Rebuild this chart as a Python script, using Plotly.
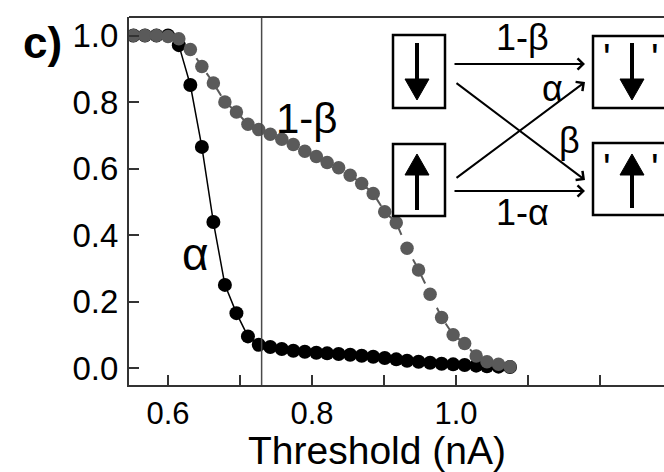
import plotly.graph_objects as go

# ---- data ----
threshold = [0.552, 0.568, 0.584, 0.600, 0.615, 0.631, 0.647, 0.663, 0.679, 0.695,
             0.711, 0.726, 0.742, 0.758, 0.774, 0.790, 0.806, 0.821, 0.837, 0.853,
             0.869, 0.885, 0.901, 0.917, 0.932, 0.948, 0.964, 0.980, 0.996, 1.012,
             1.028, 1.043, 1.059, 1.075]
alpha = [1.0, 1.0, 1.0, 1.0, 0.971, 0.851, 0.665, 0.439, 0.250, 0.165,
         0.095, 0.070, 0.063, 0.057, 0.052, 0.049, 0.046, 0.044, 0.042, 0.040,
         0.037, 0.034, 0.030, 0.026, 0.022, 0.019, 0.016, 0.013, 0.011, 0.009,
         0.007, 0.005, 0.004, 0.003]
one_minus_beta = [1.0, 1.0, 1.0, 0.997, 0.99, 0.958, 0.907, 0.857, 0.800, 0.770,
                  0.733, 0.717, 0.703, 0.688, 0.672, 0.652, 0.636, 0.618, 0.602, 0.580,
                  0.555, 0.525, 0.470, 0.437, 0.360, 0.295, 0.222, 0.152, 0.100, 0.074,
                  0.036, 0.019, 0.011, 0.004]
threshold_marker = 0.73
x_tickvals = [0.6, 0.7, 0.8, 0.9, 1.0, 1.1, 1.2]
x_ticktext = ["0.6", "", "0.8", "", "1.0", "", ""]
y_tickvals = [0.0, 0.2, 0.4, 0.6, 0.8, 1.0]
y_ticktext = ["0.0", "0.2", "0.4", "0.6", "0.8", "1.0"]

FONT = "Liberation Sans, Arial, sans-serif"
W, H = 664, 472
L, T, B, R = 129, 17, 87, 0
PW, PH = W - L - R, H - T - B


def px(x):
    return (x - L) / PW


def py(y):
    return (H - B - y) / PH


fig = go.Figure()
fig.add_trace(go.Scatter(x=threshold, y=alpha, mode="lines+markers",
                         line=dict(color="black", width=1.5),
                         marker=dict(color="black", size=14), showlegend=False))
fig.add_trace(go.Scatter(x=threshold, y=one_minus_beta, mode="lines+markers",
                         line=dict(color="#5a5a5a", width=2, dash="dash"),
                         marker=dict(color="#5a5a5a", size=13.5), showlegend=False))

shapes = []
# vertical threshold line
shapes.append(dict(type="line", xref="x", yref="paper", x0=threshold_marker, x1=threshold_marker,
                   y0=0, y1=1, line=dict(color="#4a4a4a", width=1.5)))
# top frame line
shapes.append(dict(type="line", xref="paper", yref="paper", x0=0, x1=1.01, y0=1, y1=1,
                   line=dict(color="#333", width=2)))

# inset boxes
for (x0, x1, y0, y1) in [(393, 445, 35, 108), (393, 445, 144, 216),
                         (593, 720, 36, 108), (593, 720, 143, 215)]:
    shapes.append(dict(type="rect", xref="paper", yref="paper",
                       x0=px(x0), x1=px(x1), y0=py(y1), y1=py(y0),
                       line=dict(color="black", width=2.5), fillcolor="rgba(0,0,0,0)"))


def varrow(xc, y_tail, y_tip, y_base):
    shapes.append(dict(type="line", xref="paper", yref="paper",
                       x0=px(xc), x1=px(xc), y0=py(y_tail), y1=py(y_base),
                       line=dict(color="black", width=4)))
    path = "M {:.5f},{:.5f} L {:.5f},{:.5f} L {:.5f},{:.5f} Z".format(
        px(xc), py(y_tip), px(xc - 12), py(y_base), px(xc + 12), py(y_base))
    shapes.append(dict(type="path", xref="paper", yref="paper", path=path,
                       fillcolor="black", line=dict(color="black", width=1)))


varrow(417, 43, 100, 79)
varrow(417, 210, 154, 175)
varrow(632, 43, 100, 79)
varrow(632, 208, 154, 175)

annotations = []
# diagram arrows (tip, tail) in pixels
for (tx, ty, sx, sy) in [(585, 64, 453, 64), (585, 191, 453, 191),
                         (585, 180, 455, 82), (585, 82, 455, 179)]:
    annotations.append(dict(xref="paper", yref="paper", x=px(tx), y=py(ty), text="",
                            showarrow=True, ax=sx - tx, ay=sy - ty, axref="pixel", ayref="pixel",
                            arrowhead=4, arrowsize=1.1, arrowwidth=2, arrowcolor="black",
                            standoff=0, startstandoff=0))


def label(text, x, y, size, bold=False, color="black"):
    t = "<b>%s</b>" % text if bold else text
    annotations.append(dict(xref="paper", yref="paper", x=px(x), y=py(y), text=t,
                            showarrow=False, xanchor="center", yanchor="middle",
                            font=dict(family=FONT, size=size, color=color)))


label("1-β", 522, 37, 36)
label("1-α", 522, 212, 36)
label("α", 552, 88, 36)
label("β", 569, 140, 36)
label("'", 607, 58, 40)
label("'", 655, 58, 40)
label("'", 607, 168, 40)
label("'", 655, 168, 40)
label("1-β", 307, 118, 42)
label("α", 195, 254, 46)
label("c)", 42, 42, 44, bold=True)
label("Threshold (nA)", 377, 450, 39)

fig.update_layout(
    width=W, height=H, margin=dict(l=L, r=R, t=T, b=B),
    paper_bgcolor="white", plot_bgcolor="white",
    font=dict(family=FONT, color="black"),
    shapes=shapes, annotations=annotations,
    xaxis=dict(range=[0.5458, 0.6 + (W - R - 168) / 720], tickvals=x_tickvals, ticktext=x_ticktext,
               ticks="inside", ticklen=10, tickwidth=2, tickcolor="#333",
               showline=True, linecolor="#333", linewidth=2, mirror=False,
               showgrid=False, zeroline=False, tickfont=dict(size=31, family=FONT)),
    yaxis=dict(range=[-17 / 332.5, 351 / 332.5], tickvals=y_tickvals, ticktext=y_ticktext,
               ticks="inside", ticklen=10, tickwidth=2, tickcolor="#333",
               showline=True, linecolor="#333", linewidth=2, mirror=False,
               showgrid=False, zeroline=False, tickfont=dict(size=33, family=FONT),
               ticklabelstandoff=2),
)

fig.write_html("out.html")
